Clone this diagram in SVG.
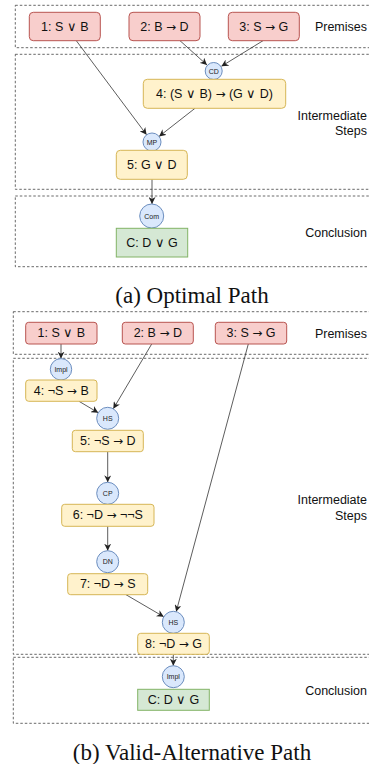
<svg xmlns="http://www.w3.org/2000/svg" width="369" height="764" viewBox="0 0 369 764">
<defs>
<marker id="ah" viewBox="0 0 10 10" refX="10" refY="5" markerWidth="7" markerHeight="7" markerUnits="userSpaceOnUse" orient="auto">
<path d="M0,0 L10,5 L0,10 L3,5 z" fill="#222"/>
</marker>
<style>
.lane{fill:none;stroke:#444;stroke-width:0.8;stroke-dasharray:2.5 2}
.prem{fill:#f8cecc;stroke:#b85450;stroke-width:1}
.step{fill:#fff2cc;stroke:#d6b656;stroke-width:1}
.conc{fill:#d5e8d4;stroke:#82b366;stroke-width:1}
.rule{fill:#dae8fc;stroke:#6c8ebf;stroke-width:1}
.t{font-family:"Liberation Sans",Arial,sans-serif;font-size:12.5px;fill:#111;text-anchor:middle;dominant-baseline:central}
.ar{font-family:"DejaVu Sans",sans-serif;font-size:12px}
.r{font-family:"Liberation Sans",Arial,sans-serif;font-size:7px;fill:#222;text-anchor:middle;dominant-baseline:central}
.lbl{font-family:"Liberation Sans",Arial,sans-serif;font-size:12.5px;fill:#111;text-anchor:end}
.cap{font-family:"Liberation Serif","Times New Roman",serif;font-size:23px;fill:#111;text-anchor:middle}
.e{fill:none;stroke:#333;stroke-width:0.8;marker-end:url(#ah)}
</style>
</defs>

<g id="lanes">
<rect class="lane" x="15.3" y="5.3" width="370" height="42.4"/>
<rect class="lane" x="15.3" y="54.3" width="370" height="135"/>
<rect class="lane" x="15.3" y="196" width="370" height="70.7"/>
<rect class="lane" x="13.3" y="311.7" width="370" height="42.6"/>
<rect class="lane" x="13.3" y="358.3" width="370" height="296"/>
<rect class="lane" x="13.3" y="657.3" width="370" height="66"/>
</g>

<g id="lane-labels">
<text class="lbl" x="367" y="31">Premises</text>
<text class="lbl" x="367" y="119.5">Intermediate</text>
<text class="lbl" x="367" y="134.5">Steps</text>
<text class="lbl" x="367" y="237">Conclusion</text>
<text class="lbl" x="367" y="338">Premises</text>
<text class="lbl" x="367" y="504">Intermediate</text>
<text class="lbl" x="367" y="519.5">Steps</text>
<text class="lbl" x="367" y="695">Conclusion</text>
</g>

<g id="connectors">
<line class="e" x1="76.3" y1="40.7" x2="146.6" y2="134.8"/>
<line class="e" x1="180" y1="40.7" x2="207" y2="65"/>
<line class="e" x1="263" y1="40.7" x2="221.4" y2="66.3"/>
<line class="e" x1="195" y1="108.3" x2="159.1" y2="136.4"/>
<line class="e" x1="152" y1="179.3" x2="152" y2="204"/>

<line class="e" x1="61" y1="344" x2="61" y2="358.6"/>
<line class="e" x1="151.7" y1="344" x2="113.3" y2="408.8"/>
<line class="e" x1="79" y1="401.3" x2="98.2" y2="412.7"/>
<line class="e" x1="248.3" y1="344" x2="176.2" y2="611.7"/>
<line class="e" x1="107.7" y1="451.7" x2="107.7" y2="482.3"/>
<line class="e" x1="107.7" y1="526.3" x2="107.7" y2="550.7"/>
<line class="e" x1="126" y1="594.7" x2="163.8" y2="616.8"/>
<line class="e" x1="173.3" y1="654.3" x2="173.3" y2="665.7"/>
</g>

<g id="a-n1"><rect class="prem" x="29.3" y="12.3" width="71" height="28.4" rx="4"/><text class="t" x="64.8" y="26.5">1: S ∨ B</text></g>
<g id="a-n2"><rect class="prem" x="129" y="12.3" width="71" height="28.4" rx="4"/><text class="t" x="164.5" y="26.5">2: B <tspan class="ar">→</tspan> D</text></g>
<g id="a-n3"><rect class="prem" x="228.3" y="12.3" width="71" height="28.4" rx="4"/><text class="t" x="263.8" y="26.5">3: S <tspan class="ar">→</tspan> G</text></g>
<g id="a-cd"><circle class="rule" cx="213.7" cy="71" r="8.5"/><text class="r" x="213.7" y="71">CD</text></g>
<g id="a-n4"><rect class="step" x="143.3" y="79.3" width="142.4" height="29" rx="4"/><text class="t" x="214.5" y="93.8">4: (S ∨ B) <tspan class="ar">→</tspan> (G ∨ D)</text></g>
<g id="a-mp"><circle class="rule" cx="152" cy="142" r="9"/><text class="r" x="152" y="142">MP</text></g>
<g id="a-n5"><rect class="step" x="116.3" y="150.3" width="71" height="29" rx="4"/><text class="t" x="151.8" y="164.8">5: G ∨ D</text></g>
<g id="a-com"><circle class="rule" cx="151.7" cy="216" r="12"/><text class="r" x="151.7" y="216">Com</text></g>
<g id="a-c"><rect class="conc" x="116.3" y="228.3" width="71.4" height="28.7"/><text class="t" x="152" y="242.7">C: D ∨ G</text></g>

<text class="cap" x="192" y="303">(a) Optimal Path</text>

<g id="b-n1"><rect class="prem" x="25.7" y="322.3" width="71.3" height="21.7" rx="3"/><text class="t" x="61.3" y="333.2">1: S ∨ B</text></g>
<g id="b-n2"><rect class="prem" x="122.3" y="322.3" width="71" height="21.7" rx="3"/><text class="t" x="157.8" y="333.2">2: B <tspan class="ar">→</tspan> D</text></g>
<g id="b-n3"><rect class="prem" x="215.3" y="322.3" width="71.4" height="21.7" rx="3"/><text class="t" x="251" y="333.2">3: S <tspan class="ar">→</tspan> G</text></g>
<g id="b-impl1"><circle class="rule" cx="61" cy="369.3" r="10.7"/><text class="r" x="61" y="369.3">Impl</text></g>
<g id="b-n4"><rect class="step" x="25.7" y="380" width="71.3" height="21.3" rx="3"/><text class="t" x="61.3" y="390.7">4: ¬S <tspan class="ar">→</tspan> B</text></g>
<g id="b-hs1"><circle class="rule" cx="107.7" cy="418.3" r="11"/><text class="r" x="107.7" y="418.3">HS</text></g>
<g id="b-n5"><rect class="step" x="72.3" y="430.3" width="71" height="21.4" rx="3"/><text class="t" x="107.8" y="441">5: ¬S <tspan class="ar">→</tspan> D</text></g>
<g id="b-cp"><circle class="rule" cx="107.7" cy="493.3" r="11"/><text class="r" x="107.7" y="493.3">CP</text></g>
<g id="b-n6"><rect class="step" x="61.7" y="504.3" width="92.3" height="22" rx="3"/><text class="t" x="107.8" y="515.3">6: ¬D <tspan class="ar">→</tspan> ¬¬S</text></g>
<g id="b-dn"><circle class="rule" cx="107.7" cy="561.7" r="11"/><text class="r" x="107.7" y="561.7">DN</text></g>
<g id="b-n7"><rect class="step" x="67.7" y="573.7" width="80" height="21" rx="3"/><text class="t" x="107.7" y="584.2">7: ¬D <tspan class="ar">→</tspan> S</text></g>
<g id="b-hs2"><circle class="rule" cx="173.3" cy="622.3" r="11"/><text class="r" x="173.3" y="622.3">HS</text></g>
<g id="b-n8"><rect class="step" x="137.7" y="633.3" width="71.6" height="21" rx="3"/><text class="t" x="173.5" y="643.8">8: ¬D <tspan class="ar">→</tspan> G</text></g>
<g id="b-impl2"><circle class="rule" cx="173.3" cy="676.7" r="11"/><text class="r" x="173.3" y="676.7">Impl</text></g>
<g id="b-c"><rect class="conc" x="137.7" y="689.3" width="71.6" height="21"/><text class="t" x="173.5" y="699.8">C: D ∨ G</text></g>

<text class="cap" x="192" y="760">(b) Valid-Alternative Path</text>
</svg>
